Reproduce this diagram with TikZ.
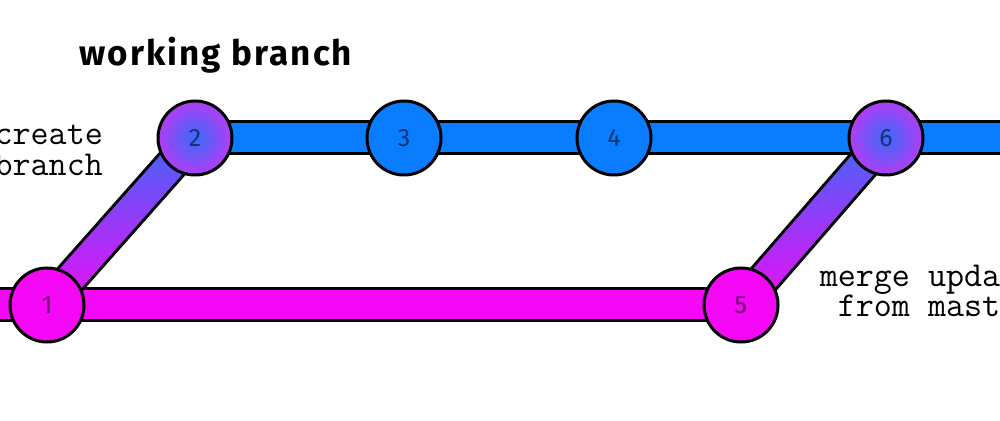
\documentclass[tikz,border=0pt]{standalone}
\usepackage{fontspec}
\setmainfont{Fira Sans}
\newfontfamily\titlefont{Fira Sans}[LetterSpace=6.0]
\usetikzlibrary{calc,backgrounds}
\definecolor{blueC}{RGB}{10,124,255}
\definecolor{pinkC}{RGB}{245,8,245}
\definecolor{gradBlue}{RGB}{55,108,250}
\definecolor{gradPurple}{RGB}{178,60,245}
\definecolor{midPurple}{RGB}{150,62,246}
\tikzset{
  commit/.style={circle, draw=black, line width=3pt, minimum size=74pt, inner sep=0pt,
    font=\fontsize{25}{30}\selectfont, text=black, text opacity=0.55},
  bluecommit/.style={commit, fill=blueC},
  pinkcommit/.style={commit, fill=pinkC},
  mixcommit/.style={commit, shading=radial, inner color=gradBlue, outer color=gradPurple},
  barOut/.style={line width=35pt, draw=black},
  barIn/.style={line width=29pt},
  mono/.style={font=\ttfamily\fontsize{35}{38}\selectfont, inner sep=0pt},
  title/.style={font=\titlefont\bfseries\fontsize{35}{38}\selectfont, inner sep=0pt}
}
\begin{document}
\begin{tikzpicture}[x=1pt,y=1pt]
\useasboundingbox (0,0) rectangle (1000,420);
\clip (0,0) rectangle (1000,420);
\coordinate (L) at (-40,115);
\coordinate (R) at (1040,282);
\node[pinkcommit] (n1) at (47,115) {1};
\node[mixcommit]  (n2) at (195,282) {2};
\node[bluecommit] (n3) at (404,282) {3};
\node[bluecommit] (n4) at (614,282) {4};
\node[pinkcommit] (n5) at (741,115) {5};
\node[mixcommit]  (n6) at (886,282) {6};
\begin{pgfonlayer}{background}
  % master bar
  \draw[barOut] (L) -- (n5.center);
  \draw[barIn, pinkC] (L) -- (n5.center);
  % working bar
  \draw[barOut] (n2.center) -- (R);
  \draw[barIn, blueC] (n2.center) -- (R);
  % diagonals
  \foreach \a/\b in {n1/n2, n5/n6}{
    \draw[barOut] (\a.center) -- (\b.center);
    \shade[bottom color=pinkC, middle color=midPurple, top color=gradBlue]
      ($(\a.center)!14.5pt!90:(\b.center)$) -- ($(\a.center)!14.5pt!-90:(\b.center)$)
      -- ($(\b.center)!14.5pt!90:(\a.center)$) -- ($(\b.center)!14.5pt!-90:(\a.center)$) -- cycle;
  }
\end{pgfonlayer}
\node[title, anchor=base west] (t) at (79,354) {working branch};
\node[mono, anchor=base east] (c1) at (103,275) {create};
\node[mono, anchor=base east] (c2) at (103,244) {branch};
\node[mono, anchor=base] (m1) at (937,133) {merge updates};
\node[mono, anchor=base] (m2) at (937,103) {from master};
\end{tikzpicture}
\end{document}
